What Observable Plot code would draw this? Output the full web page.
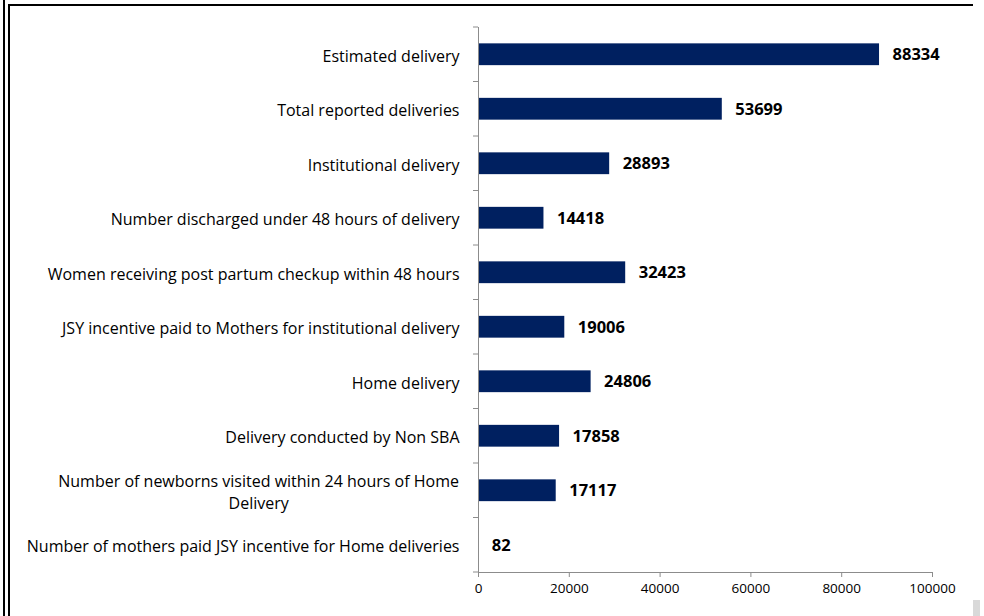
<!DOCTYPE html>
<html>
<head>
<meta charset="utf-8">
<script src="https://cdn.jsdelivr.net/npm/d3@7"></script>
<script src="https://cdn.jsdelivr.net/npm/@observablehq/plot@0.6"></script>
<style>
  html, body { margin: 0; padding: 0; background: #fff; }
  #wrap { position: relative; width: 984px; height: 616px; overflow: hidden; }
  #chart { position: absolute; left: 0; top: 0; }
  .b { position: absolute; background: #000; }
</style>
</head>
<body>
<div id="wrap">
  <div id="chart"></div>
  <div class="b" style="left:3px; top:0; width:1.5px; height:616px;"></div>
  <div class="b" style="left:8px; top:5px; width:1.5px; height:611px;"></div>
  <div class="b" style="left:8px; top:4px; width:965px; height:1.5px;"></div>
  <div style="position:absolute; left:973px; top:600px; width:7px; height:16px; background:#d9d9d9;"></div>
</div>
<script>
const categories = [
  "Estimated delivery",
  "Total reported deliveries",
  "Institutional delivery",
  "Number discharged under 48 hours of delivery",
  "Women receiving post partum checkup within 48 hours",
  "JSY incentive paid to Mothers for institutional delivery",
  "Home delivery",
  "Delivery conducted by Non SBA",
  "Number of newborns visited within 24 hours of Home Delivery",
  "Number of mothers paid JSY incentive for Home deliveries"
];
const values = [88334, 53699, 28893, 14418, 32423, 19006, 24806, 17858, 17117, 82];
const xTicks = [0, 20000, 40000, 60000, 80000, 100000];

const data = categories.map((c, i) => ({category: c, value: values[i]}));

function wrap(s) {
  const max = 56;
  if (s.length <= max) return s;
  const cut = s.lastIndexOf(" ", max);
  return s.slice(0, cut) + "\n" + s.slice(cut + 1);
}

const font = "'Open Sans', sans-serif";
const plot = Plot.plot({
  width: 984,
  height: 616,
  marginLeft: 478,
  marginRight: 52,
  marginTop: 27,
  marginBottom: 44,
  style: {fontFamily: font, fontSize: "16px", color: "#000", background: "transparent"},
  x: {domain: [0, 100000], ticks: xTicks},
  y: {domain: categories, paddingInner: 0.6, paddingOuter: 0.3, round: false, label: null},
  marks: [
    Plot.barX(data, {x: "value", y: "category", fill: "#002060"}),
    Plot.text(data, {x: "value", y: "category", text: d => String(d.value), dx: 13, textAnchor: "start", fontWeight: "bold", fontSize: 16.5, fill: "#000"}),
    Plot.frame({anchor: "left", stroke: "#8c8c8c"}),
    Plot.frame({anchor: "bottom", stroke: "#8c8c8c"}),
    Plot.axisX({ticks: xTicks, tickFormat: d => String(d), tickSize: 5, tickPadding: 6, stroke: "#8c8c8c", fontSize: 13.5, label: null, color: "#000"}),
    Plot.axisY({tickSize: 0, tickPadding: 19, tickFormat: wrap, fontSize: 16, label: null, lineHeight: 1.4})
  ]
});
document.getElementById("chart").appendChild(plot);

// band-boundary ticks on the y axis (Excel style)
const sy = plot.scale("y");
const sx = plot.scale("x");
const svg = d3.select(plot);
const x0 = sx.apply(0);
const bounds = categories.map(c => sy.apply(c) - (sy.step - sy.bandwidth) / 2);
bounds.push(bounds[bounds.length - 1] + sy.step);
svg.append("g")
  .selectAll("line").data(bounds).join("line")
  .attr("x1", x0 - 5).attr("x2", x0)
  .attr("y1", d => d).attr("y2", d => d)
  .attr("stroke", "#8c8c8c");

// center the wrapped label, as in the original
svg.selectAll("text").each(function() {
  const t = d3.select(this);
  if (this.querySelectorAll("tspan").length > 1) {
    const bb = this.getBBox();
    const tr = this.getAttribute("transform") || "";
    t.attr("text-anchor", "middle");
    t.attr("transform", tr + ` translate(${-bb.width / 2},0)`);
  }
});
</script>
</body>
</html>
